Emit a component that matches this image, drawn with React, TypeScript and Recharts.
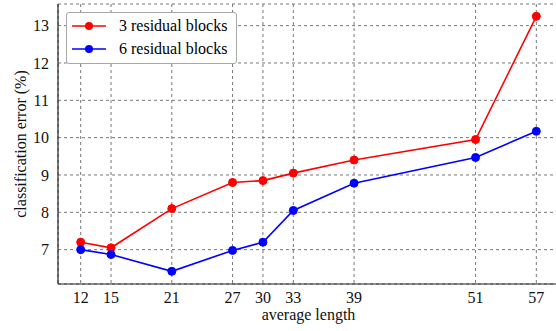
import { LineChart, Line, XAxis, YAxis, CartesianGrid } from 'recharts'

// average length values on the x axis
const lengths = [12, 15, 21, 27, 30, 33, 39, 51, 57]
// classification error (%) per model
const err3 = [7.2, 7.05, 8.1, 8.8, 8.85, 9.05, 9.4, 9.95, 13.25]
const err6 = [7.0, 6.87, 6.42, 6.98, 7.2, 8.05, 8.78, 9.47, 10.17]
const yTicks = [7, 8, 9, 10, 11, 12, 13]

const data = lengths.map((len, i) => ({ len, r3: err3[i], r6: err6[i] }))

const series = [
  { key: 'r3', name: '3 residual blocks', color: '#ff0000' },
  { key: 'r6', name: '6 residual blocks', color: '#0000ff' },
]

const FONT = '"Liberation Serif", "DejaVu Serif", serif'

function LegendBox() {
  return (
    <div
      style={{
        position: 'absolute',
        left: 66,
        top: 12,
        border: '1px solid #a8a8a8',
        borderRadius: 3,
        background: '#fff',
        width: 169,
        padding: '1px 0 3px 0',
        fontFamily: FONT,
        fontSize: 16,
      }}
    >
      {series.map((s) => (
        <div key={s.key} style={{ display: 'flex', alignItems: 'center', height: 23 }}>
          <svg width={47} height={12} style={{ marginLeft: 5, flexShrink: 0 }}>
            <line x1={0} y1={6} x2={34} y2={6} stroke={s.color} strokeWidth={1.6} />
            <circle cx={17} cy={6} r={4} fill={s.color} />
          </svg>
          <span style={{ color: '#000', whiteSpace: 'nowrap' }}>{s.name}</span>
        </div>
      ))}
    </div>
  )
}

export default function App() {
  return (
    <div style={{ position: 'absolute', left: 0, top: 0, width: 556, height: 331, overflow: 'hidden', background: '#fff' }}>
      <LineChart width={560} height={331} data={data} margin={{ top: 4, right: 1, bottom: 0, left: 0 }}>
        <CartesianGrid stroke="#777" strokeDasharray="3 3" strokeWidth={1} />
        <XAxis
          dataKey="len"
          type="number"
          domain={[9.76, 59.24]}
          ticks={lengths}
          allowDataOverflow
          height={47}
          stroke="#222"
          strokeWidth={1.2}
          tickLine={false}
          tickSize={0}
          tickMargin={8}
          tick={{ fill: '#111', fontSize: 16, fontFamily: FONT }}
          label={{ value: 'average length', position: 'insideBottom', offset: 11, fill: '#111', fontSize: 16, fontFamily: FONT }}
        />
        <YAxis
          type="number"
          domain={[6.08, 13.58]}
          ticks={yTicks}
          allowDataOverflow
          width={58}
          stroke="#222"
          strokeWidth={1.2}
          tickLine={false}
          tickSize={0}
          tickMargin={9}
          tick={{ fill: '#111', fontSize: 16, fontFamily: FONT }}
          label={{
            content: () => (
              <text
                x={20}
                y={144}
                transform="rotate(-90 20 144)"
                textAnchor="middle"
                dominantBaseline="central"
                fill="#111"
                fontSize={16}
                fontFamily={FONT}
              >
                classification error (%)
              </text>
            ),
          }}
        />
        {series.map((s) => (
          <Line
            key={s.key}
            dataKey={s.key}
            name={s.name}
            stroke={s.color}
            strokeWidth={1.6}
            dot={{ r: 4, fill: s.color, stroke: s.color, strokeWidth: 1 }}
            activeDot={false}
            isAnimationActive={false}
          />
        ))}
      </LineChart>
      <LegendBox />
    </div>
  )
}
